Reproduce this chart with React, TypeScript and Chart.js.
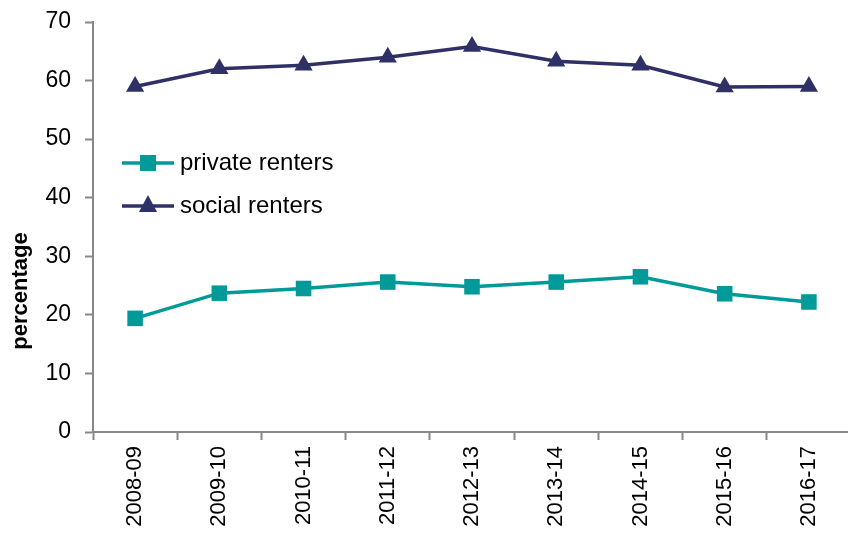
import React, { useEffect, useRef } from "react";
import { Chart, registerables } from "chart.js";

Chart.register(...registerables);

const categories = ["2008-09", "2009-10", "2010-11", "2011-12", "2012-13", "2013-14", "2014-15", "2015-16", "2016-17"];
const privateRenters = [19.4, 23.7, 24.5, 25.6, 24.8, 25.6, 26.5, 23.6, 22.2];
const socialRenters = [59.0, 62.0, 62.6, 64.0, 65.8, 63.3, 62.6, 58.9, 59.0];
const seriesNames = ["private renters", "social renters"];
const yAxisTitle = "percentage";

const TEAL = "#009B98";
const NAVY = "#2E3066";
const FONT = "'Liberation Sans', Arial, sans-serif";

const overlayPlugin = {
  id: "overlay",
  afterDraw(chart: any) {
    const ctx = chart.ctx;
    ctx.save();
    const items = [
      { label: seriesNames[0], color: TEAL, style: "rect", y: 163 },
      { label: seriesNames[1], color: NAVY, style: "triangle", y: 206 },
    ];
    for (const it of items) {
      ctx.strokeStyle = it.color;
      ctx.lineWidth = 3.5;
      ctx.beginPath();
      ctx.moveTo(122, it.y);
      ctx.lineTo(174, it.y);
      ctx.stroke();
      ctx.fillStyle = it.color;
      ctx.beginPath();
      if (it.style === "rect") {
        ctx.rect(148 - 8, it.y - 8, 16, 16);
      } else {
        ctx.moveTo(148, it.y - 11);
        ctx.lineTo(157, it.y + 6);
        ctx.lineTo(139, it.y + 6);
        ctx.closePath();
      }
      ctx.fill();
      ctx.fillStyle = "#000";
      ctx.font = `24px ${FONT}`;
      ctx.textAlign = "left";
      ctx.textBaseline = "middle";
      ctx.fillText(it.label, 180, it.y);
    }
    ctx.translate(21, 291);
    ctx.rotate(-Math.PI / 2);
    ctx.font = `bold 22px ${FONT}`;
    ctx.fillStyle = "#000";
    ctx.textAlign = "center";
    ctx.textBaseline = "middle";
    ctx.fillText(yAxisTitle, 0, 0);
    ctx.restore();
  },
};

export default function App() {
  const ref = useRef<HTMLCanvasElement>(null);
  useEffect(() => {
    document.body.style.margin = "0";
    const chart = new Chart(ref.current!, {
      type: "line",
      data: {
        labels: categories,
        datasets: [
          {
            label: seriesNames[0],
            data: privateRenters,
            borderColor: TEAL,
            backgroundColor: TEAL,
            borderWidth: 3.5,
            pointStyle: "rect",
            pointRadius: 11,
            pointBorderWidth: 0,
            tension: 0,
          },
          {
            label: seriesNames[1],
            data: socialRenters,
            borderColor: NAVY,
            backgroundColor: NAVY,
            borderWidth: 3.5,
            pointStyle: "triangle",
            pointRadius: 10.5,
            pointBorderWidth: 0,
            tension: 0,
          },
        ],
      },
      options: {
        animation: false,
        responsive: false,
        maintainAspectRatio: false,
        layout: { padding: { top: 22, right: 2, left: 0, bottom: 0 } },
        plugins: { legend: { display: false }, tooltip: { enabled: false } },
        scales: {
          x: {
            offset: true,
            grid: { display: true, drawOnChartArea: false, offset: true, tickLength: 8, color: "#888", tickWidth: 2 },
            border: { color: "#888", width: 2 },
            ticks: { color: "#000", font: { family: FONT, size: 22 }, minRotation: 90, maxRotation: 90, padding: 6 },
            afterFit(scale: any) {
              scale.height = 104;
              scale.paddingLeft = 0;
              scale.paddingRight = 0;
            },
          },
          y: {
            min: 0,
            max: 70,
            grid: { display: true, drawOnChartArea: false, tickLength: 8, color: "#888", tickWidth: 2 },
            border: { color: "#888", width: 2 },
            ticks: { stepSize: 10, color: "#000", font: { family: FONT, size: 23 }, padding: 14 },
            afterFit(scale: any) {
              scale.width = 93;
              scale.paddingTop = 0;
              scale.paddingBottom = 0;
            },
          },
        },
      },
      plugins: [overlayPlugin],
    });
    return () => chart.destroy();
  }, []);
  return (
    <div style={{ width: 848, height: 536, overflow: "hidden" }}>
      <canvas ref={ref} width={862} height={536} style={{ width: 862, height: 536, display: "block" }} />
    </div>
  );
}
